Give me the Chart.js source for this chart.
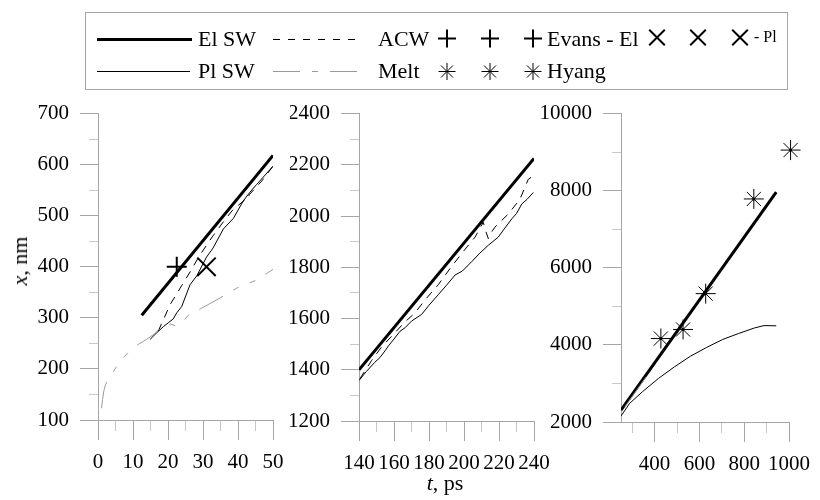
<!DOCTYPE html>
<html>
<head>
<meta charset="utf-8">
<script src="https://cdn.jsdelivr.net/npm/chart.js@4.4.0/dist/chart.umd.min.js"></script>
<style>
  body { margin: 0; background: #fff; }
  #wrap { position: relative; width: 820px; height: 500px; overflow: hidden;
          font-family: "Liberation Serif", "Times New Roman", serif; color: #000; }
  #wrap canvas { position: absolute; }
  .lg { position: absolute; font-size: 22px; line-height: 22px; white-space: nowrap; }
  .lg.small { font-size: 16px; line-height: 16px; }
  .axtitle { position: absolute; font-size: 22px; line-height: 22px; white-space: nowrap; }
</style>
</head>
<body>
<div id="wrap">
  <canvas id="legendCanvas" width="820" height="100" style="left:0;top:0"></canvas>
  <span class="lg" style="left:198px;top:28px">El SW</span>
  <span class="lg" style="left:198px;top:60px">Pl SW</span>
  <span class="lg" style="left:378px;top:28px">ACW</span>
  <span class="lg" style="left:378px;top:60px">Melt</span>
  <span class="lg" style="left:547px;top:28px">Evans - El</span>
  <span class="lg" style="left:547px;top:60px">Hyang</span>
  <span class="lg small" style="left:754px;top:29px">- Pl</span>

  <canvas id="panel1" width="300" height="410" style="left:0;top:90px"></canvas>
  <canvas id="panel2" width="270" height="410" style="left:290px;top:90px"></canvas>
  <canvas id="panel3" width="285" height="410" style="left:535px;top:90px"></canvas>

  <span class="axtitle" style="left:20px;top:261px;transform:translate(-50%,-50%) rotate(-90deg)"><i>x</i>, nm</span>
  <span class="axtitle" style="left:445px;top:483px;transform:translate(-50%,-50%)"><i>t</i>, ps</span>
</div>
<script>
// ---- axis ticks (all ticks / labelled ticks) ----
const p1TimeTicks = [0, 5, 10, 15, 20, 25, 30, 35, 40, 45, 50];
const p1TimeLabels = [0, 10, 20, 30, 40, 50];
const p1PosTicks = [100, 150, 200, 250, 300, 350, 400, 450, 500, 550, 600, 650, 700];
const p1PosLabels = [100, 200, 300, 400, 500, 600, 700];

const p2TimeTicks = [140, 150, 160, 170, 180, 190, 200, 210, 220, 230, 240];
const p2TimeLabels = [140, 160, 180, 200, 220, 240];
const p2PosTicks = [1200, 1300, 1400, 1500, 1600, 1700, 1800, 1900, 2000, 2100, 2200, 2300, 2400];
const p2PosLabels = [1200, 1400, 1600, 1800, 2000, 2200, 2400];

const p3TimeTicks = [300, 400, 500, 600, 700, 800, 900, 1000];
const p3TimeLabels = [400, 600, 800, 1000];
const p3PosTicks = [2000, 3000, 4000, 5000, 6000, 7000, 8000, 9000, 10000];
const p3PosLabels = [2000, 4000, 6000, 8000, 10000];

// ---- 0-50 ps ----
const elSwT1 = [12.5, 50];
const elSwX1 = [305, 618];
const acwT1 = [17.2, 18.8, 20.6, 23.9, 26.3, 29.1, 32.9, 35.8, 38.7, 42.0, 42.8, 43.2, 46.8, 50];
const acwX1 = [274, 298, 326, 363, 390, 423, 461, 488, 513, 531, 532, 541, 568, 597];
const plSwT1 = [14.9, 16.8, 18.7, 20.2, 21.5, 22.5, 23.9, 26.3, 28.2, 31.0, 32.9, 35.8, 38.7, 41.5, 43.4, 45.3, 50];
const plSwX1 = [258, 271, 283, 291, 298, 310, 322, 365, 382, 419, 437, 474, 495, 529, 546, 561, 597];
const meltT1 = [1.0, 1.3, 1.7, 2.2, 3.0, 4.5, 5.8, 7.5, 9.1, 11.5, 13.9, 16.0, 17.5, 18.5, 20.6, 22.0, 23.4, 25.8, 29.6, 34.9, 39.6, 45.3, 50];
const meltX1 = [123, 140, 158, 170, 181, 196, 210, 224, 236, 248, 258, 268, 278, 284, 288, 285, 287, 305, 319, 339, 358, 374, 395];
const evansElT1 = [22.5];
const evansElX1 = [400];
const evansPlT1 = [31];
const evansPlX1 = [400];

// ---- 140-240 ps ----
const elSwT2 = [140, 240];
const elSwX2 = [1400, 2225];
const acwT2 = [140.5, 147.2, 153, 160.6, 166, 172, 178, 185.3, 192, 198.7, 206.3, 211, 212.5, 213.9, 215.5, 217.7, 225.3, 232, 236.7, 240];
const acwX2 = [1365, 1436, 1490, 1545, 1585, 1622, 1675, 1732, 1795, 1854, 1918, 1976, 1940, 1912, 1935, 1957, 2008, 2066, 2143, 2160];
const plSwT2 = [140, 144, 149, 152, 154.9, 156.8, 160, 163.4, 166.3, 170, 175.8, 180, 185.3, 190, 194.9, 199, 204.4, 209, 213.9, 219.6, 223, 227.3, 230, 233, 236, 239.6];
const plSwX2 = [1358, 1392, 1429, 1448, 1474, 1493, 1520, 1550, 1564, 1590, 1616, 1652, 1693, 1730, 1770, 1785, 1822, 1855, 1886, 1918, 1950, 1989, 2010, 2047, 2065, 2092];

// ---- 250-1000 ps ----
const elSwT3 = [250, 943];
const elSwX3 = [2310, 7960];
const plSwT3 = [250, 288.6, 345.6, 417, 488.6, 560, 631.4, 703, 774, 846, 888.6, 943];
const plSwX3 = [2155, 2483, 2784, 3130, 3431, 3707, 3932, 4139, 4294, 4440, 4501, 4495];
const meltT3 = [267, 361];
const meltX3 = [2390, 3160];
const hyangT3 = [428, 527, 628, 843, 1007];
const hyangX3 = [4165, 4400, 5330, 7786, 9054];

const AXIS = '#a6a6a6';
const MINOR = '#c8c8c8';
const MELT = '#9a9a9a';
const ACW_DASH = [8, 7];
const MELT_DASH = [27, 12, 6, 12, 6, 12];

Chart.defaults.font.family = '"Liberation Serif", "Times New Roman", serif';
Chart.defaults.color = '#000';

const pts = (t, x) => t.map((v, i) => ({ x: v, y: x[i] }));

function line(t, x, color, width, dash) {
  return {
    data: pts(t, x), showLine: true, pointRadius: 0, fill: false, tension: 0,
    borderColor: color, borderWidth: width, borderDash: dash || []
  };
}

function marks(t, x, shape, r, w) {
  return {
    data: pts(t, x), showLine: false, pointStyle: shape, pointRadius: r,
    borderColor: '#000', backgroundColor: '#000', borderWidth: w, clip: false
  };
}

// Excel-like axis: grey line, ticks outside, long ticks on labelled values
function axis(pos, min, max, ticks, labels, size, tickLen, minorLen, pad) {
  const horiz = pos === 'bottom';
  const isMajor = c => c.tick && labels.includes(c.tick.value);
  return {
    type: 'linear', position: pos, min: min, max: max,
    afterBuildTicks: s => { s.ticks = ticks.map(v => ({ value: v })); },
    afterFit: s => { if (horiz) s.height = size; else s.width = size; },
    border: { display: true, color: AXIS, width: 1 },
    grid: {
      drawOnChartArea: false, drawTicks: true, tickLength: tickLen, tickWidth: 1,
      tickColor: c => isMajor(c) ? AXIS : MINOR,
      tickBorderDash: c => isMajor(c) ? [] : (horiz ? [minorLen, 200] : [0, tickLen - minorLen, minorLen, 200])
    },
    ticks: {
      autoSkip: false, maxRotation: 0, padding: pad, color: '#000',
      font: { size: 21 },
      callback: v => labels.includes(v) ? String(v) : ''
    }
  };
}

function panel(id, datasets, padding, xAxis, yAxis) {
  return new Chart(document.getElementById(id), {
    type: 'scatter',
    data: { datasets: datasets },
    options: {
      responsive: false, animation: false, devicePixelRatio: 1, events: [],
      layout: { padding: padding },
      plugins: { legend: { display: false }, tooltip: { enabled: false } },
      scales: { x: xAxis, y: yAxis }
    }
  });
}

panel('panel1', [
  line(meltT1, meltX1, MELT, 1, MELT_DASH),
  line(plSwT1, plSwX1, '#000', 1),
  line(acwT1, acwX1, '#000', 1, ACW_DASH),
  line(elSwT1, elSwX1, '#000', 3),
  marks(evansElT1, evansElX1, 'cross', 10, 2),
  marks(evansPlT1, evansPlX1, 'crossRot', 13, 2)
], { left: 0, top: 20, right: 27, bottom: 0 },
  axis('bottom', 0, 50, p1TimeTicks, p1TimeLabels, 80, 20, 10, 10),
  axis('left', 100, 700, p1PosTicks, p1PosLabels, 98, 18, 9, 11));

panel('panel2', [
  line(plSwT2, plSwX2, '#000', 1),
  line(acwT2, acwX2, '#000', 1, ACW_DASH),
  line(elSwT2, elSwX2, '#000', 3)
], { left: 0, top: 20, right: 26, bottom: 0 },
  axis('bottom', 140, 240, p2TimeTicks, p2TimeLabels, 79, 20, 10, 10),
  axis('left', 1200, 2400, p2PosTicks, p2PosLabels, 69, 18, 9, 11));

panel('panel3', [
  line(meltT3, meltX3, MELT, 1),
  line(plSwT3, plSwX3, '#000', 1),
  line(elSwT3, elSwX3, '#000', 3),
  marks(hyangT3, hyangX3, 'star', 10, 1),
  marks(hyangT3, hyangX3, 'circle', 1.5, 0)
], { left: 0, top: 23, right: 24, bottom: 0 },
  axis('bottom', 250, 1000, p3TimeTicks, p3TimeLabels, 78, 20, 10, 10),
  axis('left', 2000, 10000, p3PosTicks, p3PosLabels, 86, 18, 9, 11));

// ---- legend samples ----
const lg = document.getElementById('legendCanvas').getContext('2d');
lg.strokeStyle = AXIS;
lg.lineWidth = 1;
lg.strokeRect(85.5, 12.5, 702, 77);

function sample(x1, x2, y, width, color, dash) {
  lg.save();
  lg.strokeStyle = color;
  lg.lineWidth = width;
  lg.setLineDash(dash || []);
  lg.beginPath();
  lg.moveTo(x1, y);
  lg.lineTo(x2, y);
  lg.stroke();
  lg.restore();
}

function sampleMarks(xs, y, shape, r, w) {
  xs.forEach(x => {
    lg.save();
    lg.strokeStyle = '#000';
    lg.fillStyle = '#000';
    lg.lineWidth = w;
    Chart.helpers.drawPoint(lg, { pointStyle: shape, radius: r, borderWidth: w, rotation: 0 }, x, y);
    lg.restore();
  });
}

sample(97, 192, 39.5, 3, '#000');
sample(97, 190, 71.5, 1, '#000');
sample(273, 363, 39.5, 1, '#000', [7, 8]);
sample(273, 363, 71.5, 1, MELT, [27, 12, 6, 12]);
sampleMarks([447, 490, 533], 38.5, 'cross', 9, 2);
sampleMarks([447, 490, 533], 71.5, 'star', 8.5, 1);
sampleMarks([657, 698, 740], 37.5, 'crossRot', 11, 2);
</script>
</body>
</html>
